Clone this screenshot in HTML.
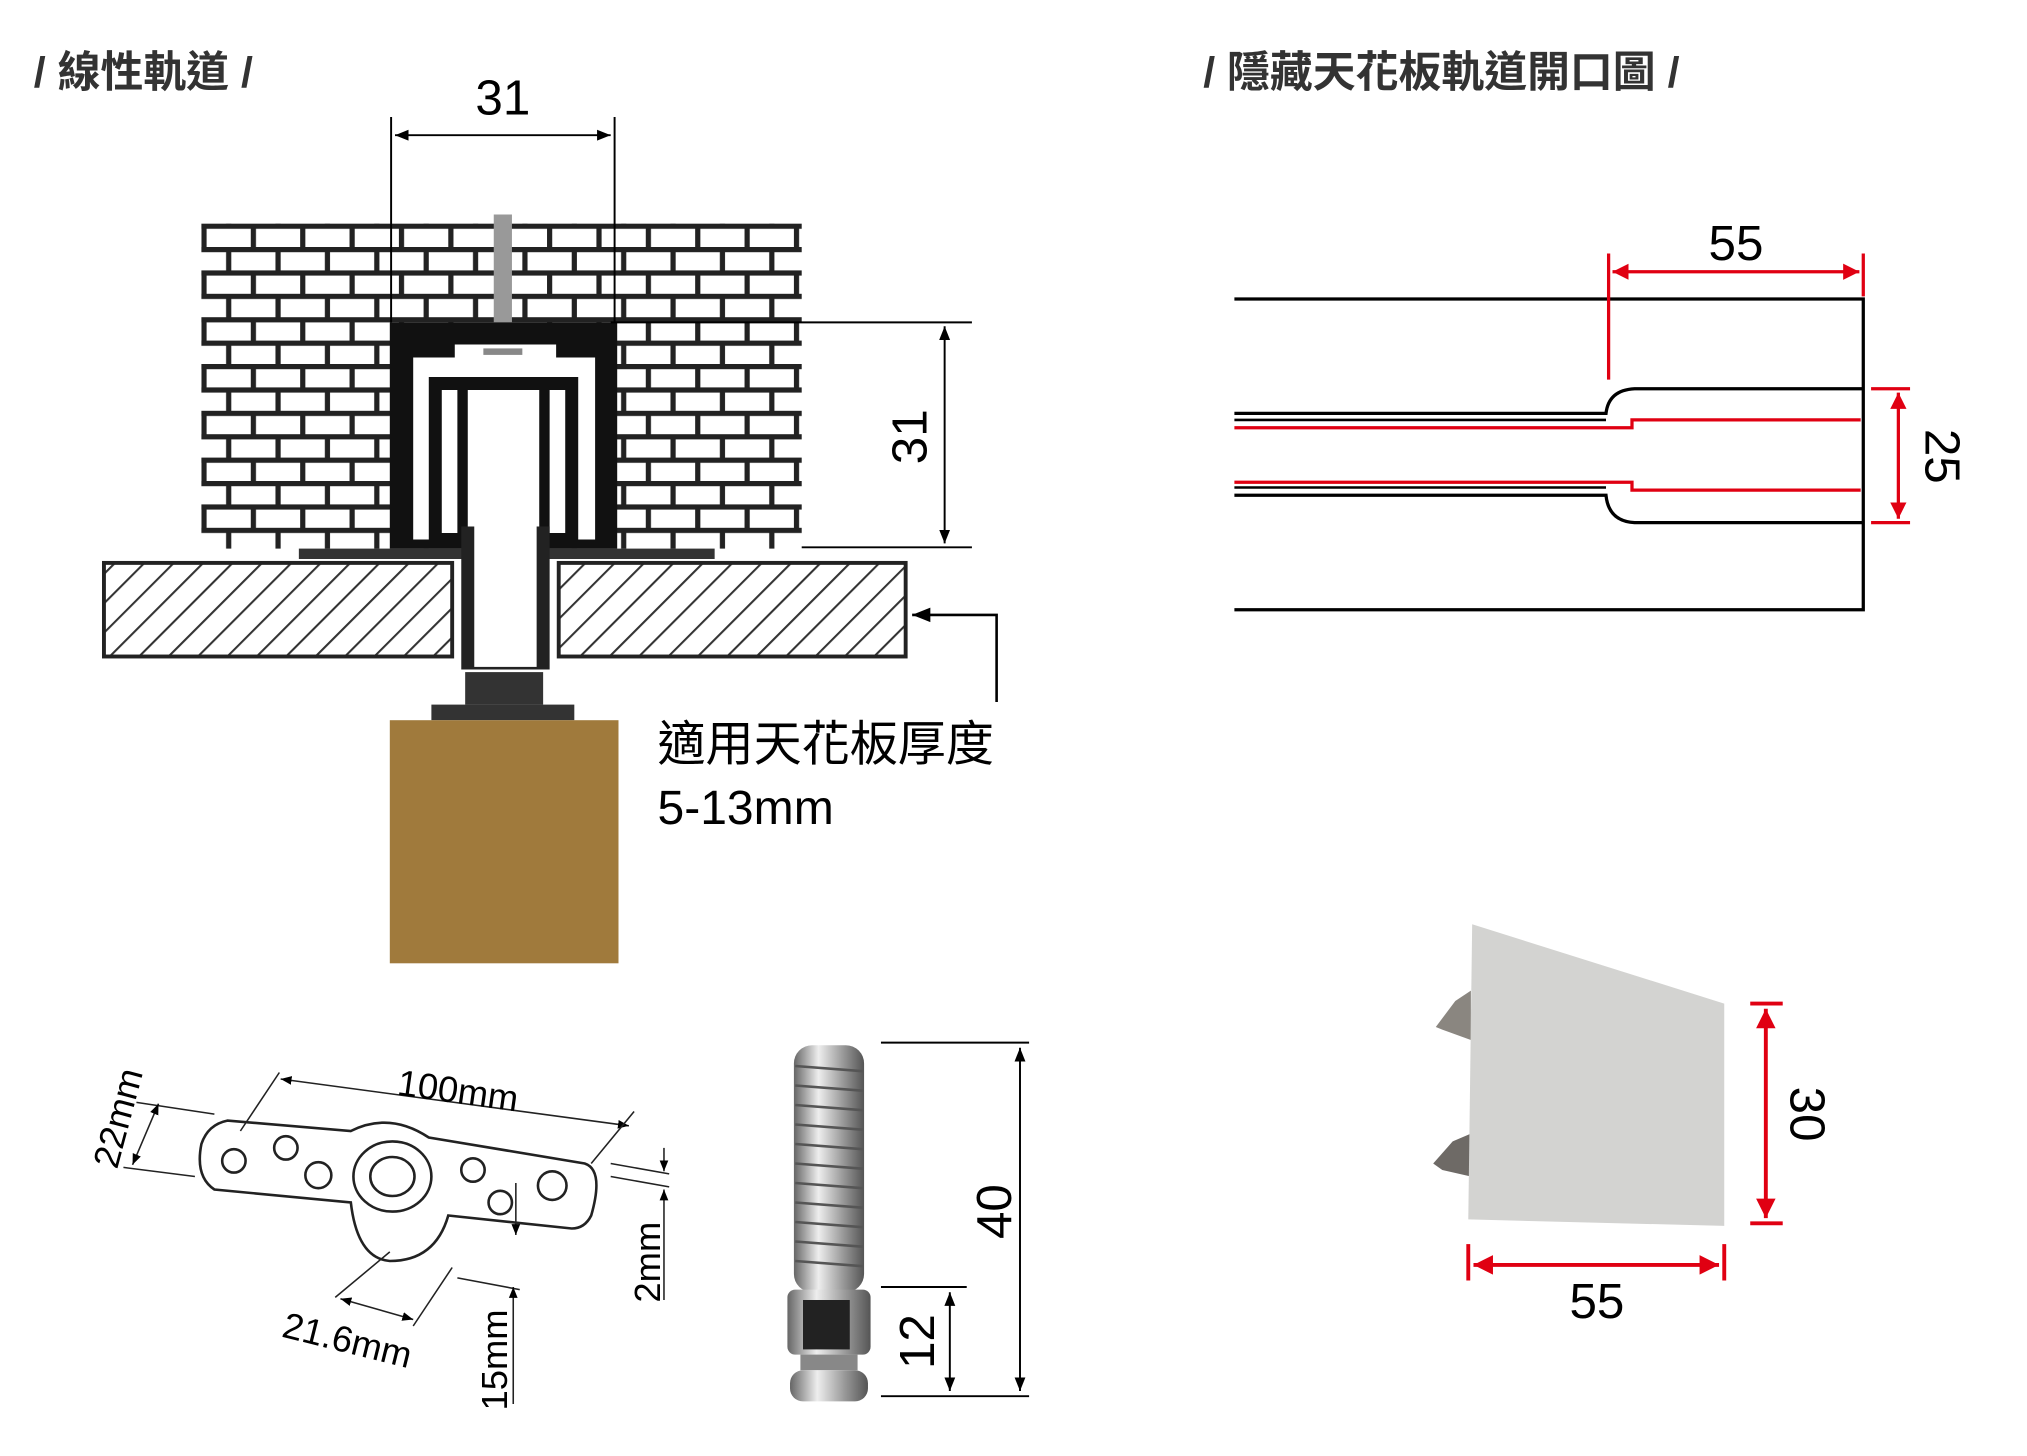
<!DOCTYPE html>
<html><head><meta charset="utf-8"><style>
html,body{margin:0;padding:0;background:#fff;width:2027px;height:1456px;overflow:hidden}
svg{display:block}
text{font-family:"Liberation Sans","Noto Sans CJK TC",sans-serif}
</style></head><body>
<svg width="2027" height="1456" viewBox="0 0 1560 1120" preserveAspectRatio="none" xmlns="http://www.w3.org/2000/svg">
<defs>
<pattern id="brick" x="155" y="172" width="38" height="36" patternUnits="userSpaceOnUse">
<rect width="38" height="36" fill="#fff"/>
<rect x="0" y="0" width="38" height="4" fill="#222"/>
<rect x="0" y="18" width="38" height="4" fill="#222"/>
<rect x="0" y="0" width="4" height="18" fill="#222"/>
<rect x="19" y="18" width="4" height="18" fill="#222"/>
</pattern>
<pattern id="hatch" width="16" height="16" patternUnits="userSpaceOnUse" patternTransform="rotate(45)">
<rect width="16" height="16" fill="#fff"/><rect x="0" y="0" width="1.6" height="16" fill="#333"/>
</pattern>
<marker id="ab" viewBox="0 0 10 10" refX="10" refY="5" markerWidth="7" markerHeight="7" orient="auto-start-reverse"><path d="M0,1 L10,5 L0,9z" fill="#000"/></marker>
<marker id="ar" viewBox="0 0 10 10" refX="10" refY="5" markerWidth="5" markerHeight="5" orient="auto-start-reverse"><path d="M0,0 L10,5 L0,10z" fill="#e00012"/></marker>
<linearGradient id="met" x1="0" x2="1"><stop offset="0" stop-color="#666"/><stop offset=".35" stop-color="#eee"/><stop offset=".7" stop-color="#999"/><stop offset="1" stop-color="#555"/></linearGradient>
</defs>

<!-- titles -->
<text x="26" y="67" font-size="33" font-weight="bold" fill="#333">/ 線性軌道 /</text>
<text x="926" y="67" font-size="33" font-weight="bold" fill="#333">/ 隱藏天花板軌道開口圖 /</text>

<!-- brick wall -->
<rect x="155" y="172" width="462" height="250" fill="url(#brick)"/>
<!-- screw -->
<rect x="380" y="165" width="14" height="90" fill="#999"/>
<!-- track -->
<path d="M300,248 H475 V422 H300Z" fill="#111"/>
<rect x="318" y="275" width="140" height="140" fill="#fff"/>
<rect x="330" y="290" width="115" height="125" fill="#111"/>
<rect x="360" y="300" width="55" height="110" fill="#fff"/>
<rect x="340" y="300" width="12" height="110" fill="#fff"/>
<rect x="423" y="300" width="12" height="110" fill="#fff"/>
<rect x="350" y="265" width="78" height="20" fill="#fff"/>
<rect x="372" y="268" width="30" height="5" fill="#888"/>
<rect x="230" y="422" width="320" height="8" fill="#333"/>
<!-- ceiling boards -->
<rect x="80" y="433" width="268" height="72" fill="url(#hatch)" stroke="#222" stroke-width="3"/>
<rect x="430" y="433" width="267" height="72" fill="url(#hatch)" stroke="#222" stroke-width="3"/>
<!-- stem -->
<rect x="355" y="405" width="68" height="110" fill="#222"/>
<rect x="365" y="405" width="48" height="108" fill="#fff"/>
<rect x="358" y="517" width="60" height="25" fill="#333"/>
<rect x="332" y="542" width="110" height="12" fill="#333"/>
<!-- wood -->
<rect x="300" y="554" width="176" height="187" fill="#a07a3c"/>

<!-- dims left -->
<line x1="301" y1="90" x2="301" y2="248" stroke="#000" stroke-width="1.5"/>
<line x1="473" y1="90" x2="473" y2="248" stroke="#000" stroke-width="1.5"/>
<line x1="304" y1="104" x2="470" y2="104" stroke="#000" stroke-width="1.5" marker-start="url(#ab)" marker-end="url(#ab)"/>
<text x="387" y="88" font-size="38" text-anchor="middle">31</text>
<line x1="470" y1="248" x2="748" y2="248" stroke="#000" stroke-width="1.5"/>
<line x1="617" y1="421" x2="748" y2="421" stroke="#000" stroke-width="1.5"/>
<line x1="727" y1="251" x2="727" y2="418" stroke="#000" stroke-width="1.5" marker-start="url(#ab)" marker-end="url(#ab)"/>
<text transform="translate(713,336) rotate(-90)" font-size="38" text-anchor="middle">31</text>
<polyline points="767,540 767,473 702,473" fill="none" stroke="#000" stroke-width="2" marker-end="url(#ab)"/>
<text x="506" y="585" font-size="37">適用天花板厚度</text>
<text x="506" y="634" font-size="37">5-13mm</text>

<!-- right rail diagram -->
<g fill="none" stroke="#000" stroke-width="2.5">
<path d="M950,230 H1434 V469 H950"/>
<path d="M950,318 H1236 Q1238,300 1258,299 H1434"/>
<path d="M950,381 H1236 Q1238,401 1258,402 H1434"/>
<path d="M950,323 H1236" stroke-width="2"/>
<path d="M950,375 H1236" stroke-width="2"/>
</g>
<g fill="none" stroke="#e00012" stroke-width="2.5">
<path d="M950,329 H1256 V323 H1432"/>
<path d="M950,371 H1256 V377 H1432"/>
<line x1="1238" y1="195" x2="1238" y2="292"/>
<line x1="1434" y1="195" x2="1434" y2="228"/>
<line x1="1241" y1="209" x2="1431" y2="209" marker-start="url(#ar)" marker-end="url(#ar)"/>
<line x1="1440" y1="299" x2="1470" y2="299"/>
<line x1="1440" y1="402" x2="1470" y2="402"/>
<line x1="1461" y1="302" x2="1461" y2="399" marker-start="url(#ar)" marker-end="url(#ar)"/>
</g>
<text x="1336" y="200" font-size="38" text-anchor="middle">55</text>
<text transform="translate(1482,351) rotate(90)" font-size="38" text-anchor="middle">25</text>

<!-- aluminum profile -->
<path d="M1105,790 L1120,770 L1132,762 V800 L1110,792Z" fill="#8a8680"/>
<path d="M1103,895 L1118,878 L1132,872 V905 L1110,900Z" fill="#6e6a66"/>
<path d="M1133,711 L1327,772 V943 L1130,938Z" fill="#d3d3d1"/>
<g stroke="#e00012" stroke-width="3" fill="none">
<line x1="1347" y1="772" x2="1372" y2="772"/><line x1="1347" y1="941" x2="1372" y2="941"/>
<line x1="1359" y1="776" x2="1359" y2="937" marker-start="url(#ar)" marker-end="url(#ar)"/>
<line x1="1130" y1="957" x2="1130" y2="985"/><line x1="1327" y1="957" x2="1327" y2="985"/>
<line x1="1134" y1="973" x2="1323" y2="973" marker-start="url(#ar)" marker-end="url(#ar)"/>
</g>
<text x="1229" y="1014" font-size="38" text-anchor="middle">55</text>
<text transform="translate(1378,857) rotate(90)" font-size="38" text-anchor="middle">30</text>

<!-- plate -->
<g fill="none" stroke="#222" stroke-width="2">
<path d="M155,880 Q160,865 175,862 L270,870 Q300,855 330,875 L450,895 Q465,900 455,935 Q450,945 440,945 L345,935 Q335,970 300,970 Q275,968 270,925 L165,915 Q150,905 155,880Z"/>
<circle cx="180" cy="893" r="9"/><circle cx="220" cy="883" r="9"/><circle cx="245" cy="904" r="10"/>
<ellipse cx="302" cy="905" rx="30" ry="27"/><ellipse cx="302" cy="905" rx="17" ry="15"/>
<circle cx="364" cy="900" r="9"/><circle cx="385" cy="925" r="9"/><circle cx="425" cy="912" r="11"/>
</g>
<g stroke="#222" stroke-width="1.2" fill="none">
<line x1="216" y1="830" x2="484" y2="866" marker-start="url(#ab)" marker-end="url(#ab)"/>
<line x1="185" y1="870" x2="215" y2="825"/><line x1="455" y1="895" x2="488" y2="855"/>
<line x1="105" y1="848" x2="165" y2="857"/><line x1="95" y1="898" x2="150" y2="905"/>
<line x1="122" y1="849" x2="102" y2="896" marker-start="url(#ab)" marker-end="url(#ab)"/>
<line x1="470" y1="895" x2="515" y2="903"/><line x1="470" y1="905" x2="515" y2="913"/>
<line x1="511" y1="883" x2="511" y2="901" marker-end="url(#ab)"/>
<line x1="511" y1="1000" x2="511" y2="915" marker-end="url(#ab)"/>
<line x1="258" y1="998" x2="300" y2="963"/><line x1="318" y1="1020" x2="348" y2="975"/>
<line x1="262" y1="999" x2="318" y2="1015" marker-start="url(#ab)" marker-end="url(#ab)"/>
<line x1="352" y1="983" x2="400" y2="992"/>
<line x1="395" y1="1080" x2="395" y2="990" marker-end="url(#ab)"/>
<line x1="397" y1="910" x2="397" y2="950" marker-end="url(#ab)"/>
</g>
<text transform="translate(305,842) rotate(8)" font-size="28">100mm</text>
<text transform="translate(90,900) rotate(-75)" font-size="28">22mm</text>
<text transform="translate(508,1002) rotate(-90)" font-size="28">2mm</text>
<text transform="translate(216,1028) rotate(14)" font-size="28">21.6mm</text>
<text transform="translate(390,1085) rotate(-90)" font-size="28">15mm</text>

<!-- bolt -->
<rect x="611" y="804" width="54" height="190" rx="14" fill="url(#met)"/>
<g stroke="#555" stroke-width="2">
<line x1="612" y1="820" x2="664" y2="824"/><line x1="612" y1="835" x2="664" y2="839"/><line x1="612" y1="850" x2="664" y2="854"/><line x1="612" y1="865" x2="664" y2="869"/><line x1="612" y1="880" x2="664" y2="884"/><line x1="612" y1="895" x2="664" y2="899"/><line x1="612" y1="910" x2="664" y2="914"/><line x1="612" y1="925" x2="664" y2="929"/><line x1="612" y1="940" x2="664" y2="944"/><line x1="612" y1="955" x2="664" y2="959"/><line x1="612" y1="970" x2="664" y2="974"/>
</g>
<rect x="606" y="992" width="64" height="50" rx="6" fill="url(#met)"/>
<rect x="618" y="1000" width="36" height="38" fill="#222"/>
<rect x="616" y="1042" width="44" height="12" fill="#888"/>
<rect x="608" y="1054" width="60" height="24" rx="10" fill="url(#met)"/>
<g stroke="#000" stroke-width="1.5">
<line x1="678" y1="802" x2="792" y2="802"/><line x1="678" y1="1074" x2="792" y2="1074"/>
<line x1="785" y1="806" x2="785" y2="1070" marker-start="url(#ab)" marker-end="url(#ab)"/>
<line x1="678" y1="990" x2="744" y2="990"/>
<line x1="731" y1="994" x2="731" y2="1070" marker-start="url(#ab)" marker-end="url(#ab)"/>
</g>
<text transform="translate(778,932) rotate(-90)" font-size="38" text-anchor="middle">40</text>
<text transform="translate(719,1032) rotate(-90)" font-size="38" text-anchor="middle">12</text>
</svg>
</body></html>
